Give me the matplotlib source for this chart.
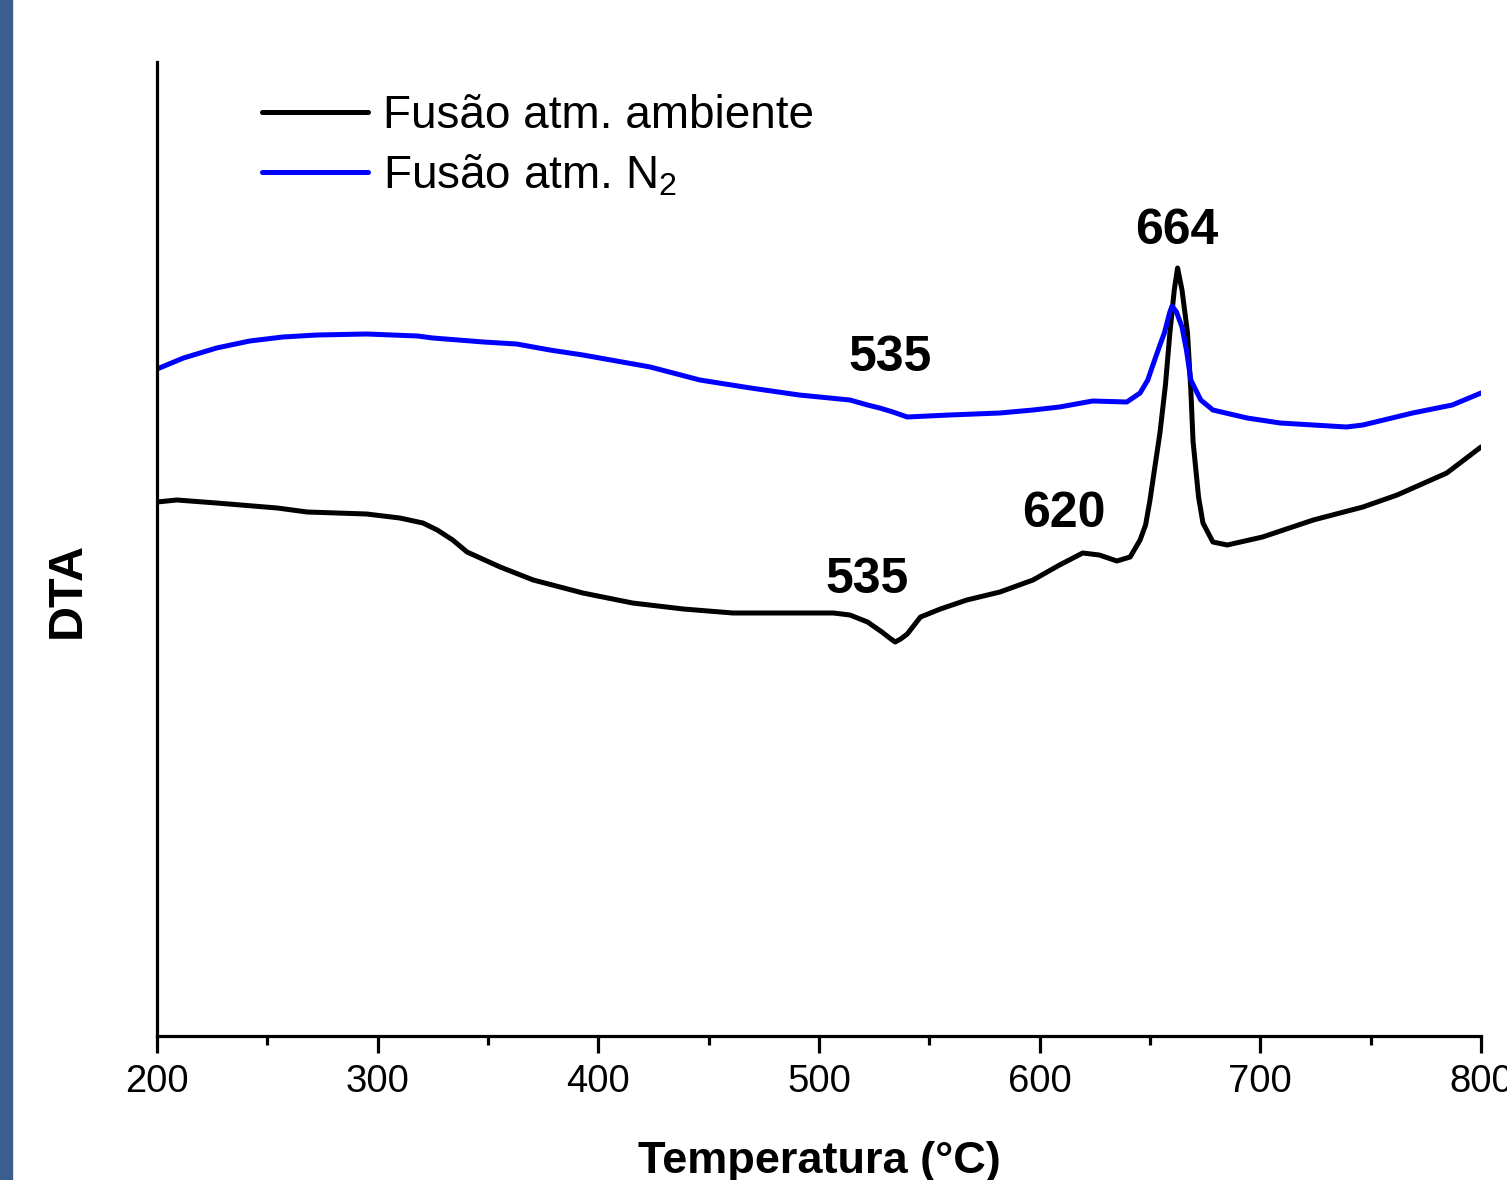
import matplotlib
matplotlib.use("Agg")
import matplotlib.pyplot as plt
from matplotlib.patches import Rectangle
from matplotlib.ticker import MultipleLocator

plt.rcParams['font.family'] = ['Liberation Sans', 'DejaVu Sans']
plt.rcParams['mathtext.fontset'] = 'custom'
plt.rcParams['mathtext.rm'] = 'Liberation Sans'
plt.rcParams['mathtext.it'] = 'Liberation Sans'
plt.rcParams['mathtext.default'] = 'regular'

# Data (temperature in °C, DTA in arbitrary units)
temp_amb = [200, 209, 227, 254.5, 268, 295, 310, 320.5, 327, 334, 340.5, 355.5, 370.5, 393,
            415.5, 438.5, 461, 483.5, 506.5, 514, 522, 528.5, 532, 534.5, 537, 540, 546, 555,
            567, 582, 597, 609, 619.5, 627, 635, 641, 645.5, 648, 650, 652, 654.5, 657, 659,
            661, 662.5, 664.5, 667, 668.5, 669.5, 672, 674, 678.5, 685, 701, 724, 746.5, 762,
            784.5, 800]
dta_amb = [5.34, 5.36, 5.33, 5.28, 5.24, 5.22, 5.18, 5.13, 5.06, 4.96, 4.84, 4.69, 4.56, 4.43,
           4.33, 4.27, 4.23, 4.23, 4.23, 4.21, 4.14, 4.04, 3.98, 3.94, 3.97, 4.02, 4.19, 4.27,
           4.36, 4.44, 4.56, 4.71, 4.83, 4.81, 4.75, 4.79, 4.96, 5.11, 5.36, 5.66, 6.03, 6.51,
           7.03, 7.46, 7.68, 7.46, 7.03, 6.46, 5.95, 5.39, 5.13, 4.94, 4.91, 4.99, 5.16, 5.29,
           5.41, 5.63, 5.89]

temp_n2 = [200, 212, 227, 242, 257, 272.5, 295, 318, 325, 348, 363, 378, 393, 423.5, 446, 469,
           491, 514, 522, 527.5, 533.5, 540, 559, 582, 597, 609, 624, 639.5, 645.5, 649, 651,
           654.5, 656.5, 659, 660, 662, 664.5, 666.5, 668.5, 673, 678.5, 694, 709, 739, 746.5,
           769, 787, 800]
dta_n2 = [6.67, 6.78, 6.88, 6.95, 6.99, 7.01, 7.02, 7.00, 6.98, 6.94, 6.92, 6.86, 6.81, 6.69,
          6.56, 6.48, 6.41, 6.36, 6.31, 6.28, 6.24, 6.19, 6.21, 6.23, 6.26, 6.29, 6.35, 6.34,
          6.43, 6.56, 6.69, 6.91, 7.03, 7.24, 7.30, 7.24, 7.09, 6.86, 6.56, 6.36, 6.26, 6.18,
          6.13, 6.09, 6.11, 6.23, 6.31, 6.43]

series_labels = ["Fusão atm. ambiente", "Fusão atm. N$_2$"]
peak_labels = ["664", "535", "535", "620"]
peak_pos = [(662, 8.05), (532, 6.78), (522, 4.56), (611, 5.22)]
xticks = [200, 300, 400, 500, 600, 700, 800]

fig = plt.figure(figsize=(15.07, 11.8), dpi=100)
fig.patches.append(Rectangle((0, 0), 12/1507, 1, transform=fig.transFigure,
                             color='#3b5e8c', zorder=0))
ax = fig.add_axes([157/1507, (1180-1036)/1180, (1481-157)/1507, (1036-62)/1180])

ax.plot(temp_amb, dta_amb, color='black', lw=3.6, label=series_labels[0],
        solid_joinstyle='round', solid_capstyle='round')
ax.plot(temp_n2, dta_n2, color='#0000ff', lw=3.6, label=series_labels[1],
        solid_joinstyle='round', solid_capstyle='round')

ax.set_xlim(200, 800)
ax.set_ylim(0, 9.74)
ax.set_xticks(xticks)
ax.xaxis.set_minor_locator(MultipleLocator(50))
ax.set_yticks([])
for s in ['top', 'right']:
    ax.spines[s].set_visible(False)
for s in ['left', 'bottom']:
    ax.spines[s].set_linewidth(2.3)
ax.tick_params(axis='x', which='major', length=12.5, width=2.3, labelsize=27.5, pad=8)
ax.tick_params(axis='x', which='minor', length=6.5, width=2.3)

for lab, (x, y) in zip(peak_labels, peak_pos):
    ax.text(x, y, lab, fontsize=36, fontweight='bold', ha='center', va='center')

leg = ax.legend(loc='upper left', bbox_to_anchor=(262/1507, 1 - 94/1180),
                bbox_transform=fig.transFigure, frameon=False, fontsize=33,
                handlelength=2.31, handletextpad=0.33, labelspacing=0.32,
                borderpad=0, borderaxespad=0)
for h in leg.get_lines():
    h.set_linewidth(3.6)

fig.text(819/1507, 1 - 1173/1180, "Temperatura (°C)", fontsize=32.5, fontweight='bold',
         ha='center', va='baseline')
fig.text(67/1507, 1 - 590/1180, "DTA", fontsize=35, fontweight='bold',
         ha='center', va='center', rotation=90)

fig.savefig("out.png", dpi=100)
